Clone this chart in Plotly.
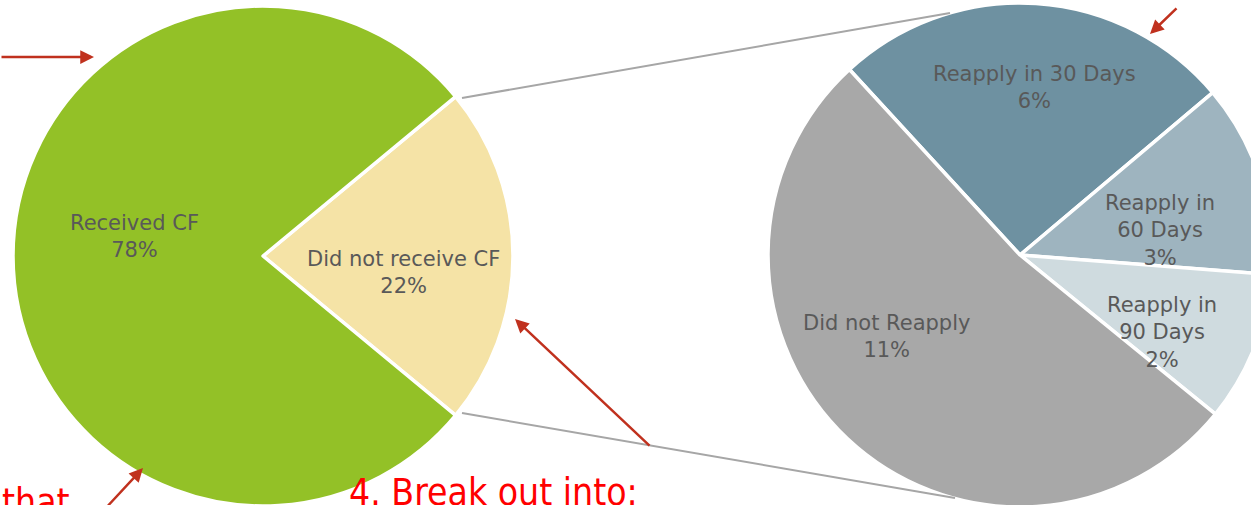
import plotly.graph_objects as go

# ---------------- data ----------------
left_labels = ["Did not receive CF", "Received CF"]
left_values = [22, 78]
left_colors = ["#F5E3A6", "#93C127"]

right_labels = ["Reapply in 30 Days", "Reapply in 60 Days", "Reapply in 90 Days", "Did not Reapply"]
right_display = ["Reapply in 30 Days", "Reapply in<br>60 Days", "Reapply in<br>90 Days", "Did not Reapply"]
right_values = [5.6, 2.7, 2.1, 11.4]
right_colors = ["#6E91A1", "#9EB4BF", "#CFDBDF", "#A8A8A8"]

note_texts = ["4. Break out into:", "that"]

# ---------------- layout helpers ----------------
W, H = 1275, 510


def px(x, y):
    return x / W, 1 - y / H


LC, LR = (263, 256), 250   # left pie centre / radius (pixels)
RC, RR = (1020, 255), 252  # right pie centre / radius (pixels)


def dom(c, r):
    return dict(x=[(c[0] - r) / W, (c[0] + r) / W],
                y=[1 - (c[1] + r) / H, 1 - (c[1] - r) / H])


fig = go.Figure()
fig.add_trace(go.Pie(
    labels=left_labels, values=left_values, sort=False, direction="clockwise",
    rotation=90 - left_values[0] / sum(left_values) * 180,
    marker=dict(colors=left_colors, line=dict(color="white", width=3.5)),
    textinfo="none", hoverinfo="label+percent", domain=dom(LC, LR), showlegend=False,
))
fig.add_trace(go.Pie(
    labels=right_labels, values=right_values, sort=False, direction="clockwise",
    rotation=-42.6,
    marker=dict(colors=right_colors, line=dict(color="white", width=3.5)),
    textinfo="none", hoverinfo="label+value", domain=dom(RC, RR), showlegend=False,
))

label_font = dict(family="DejaVu Sans, Verdana, sans-serif", size=21, color="#595959")
annotations = []

# slice labels (pixel positions of label centres)
left_pos = [(403, 272), (134, 236)]
for lab, v, (x, y) in zip(left_labels, left_values, left_pos):
    ax_, ay_ = px(x, y)
    annotations.append(dict(text=f"{lab}<br>{v}%", x=ax_, y=ay_, xref="paper", yref="paper",
                            xanchor="center", yanchor="middle", showarrow=False, font=label_font))

right_pos = [(1034, 87), (1160, 231), (1162, 332), (886, 336)]
for lab, v, (x, y) in zip(right_display, right_values, right_pos):
    ax_, ay_ = px(x, y)
    annotations.append(dict(text=f"{lab}<br>{round(v)}%", x=ax_, y=ay_, xref="paper", yref="paper",
                            xanchor="center", yanchor="middle", showarrow=False, font=label_font))

# red notes
red_font = dict(family="DejaVu Sans Condensed, Liberation Sans Narrow, Arial Narrow, sans-serif",
                size=37, color="#FF0000")
for t, (x, y) in zip(note_texts, [(347, 492), (0, 502)]):
    ax_, ay_ = px(x, y)
    annotations.append(dict(text=t, x=ax_, y=ay_, xref="paper", yref="paper",
                            xanchor="left", yanchor="middle", showarrow=False, font=red_font))

# red arrows: (tip, tail) in pixels
arrows = [((94, 57), (-4, 57)), ((1150, 34), (1178, 7)),
          ((515, 319), (651, 447)), ((143, 468), (104, 515))]
for (tx, ty), (sx, sy) in arrows:
    ax_, ay_ = px(tx, ty)
    annotations.append(dict(text="", x=ax_, y=ay_, xref="paper", yref="paper",
                            showarrow=True, arrowhead=2, arrowsize=1.1, arrowwidth=2.5,
                            arrowcolor="#C0311E", ax=sx - tx, ay=sy - ty, standoff=0))

# grey connector lines
shapes = []
for (x0, y0), (x1, y1) in [((462, 98), (950, 13)), ((462, 413), (955, 498))]:
    a0, b0 = px(x0, y0)
    a1, b1 = px(x1, y1)
    shapes.append(dict(type="line", xref="paper", yref="paper", x0=a0, y0=b0, x1=a1, y1=b1,
                       line=dict(color="#A6A6A6", width=2)))

fig.update_layout(width=W, height=H, margin=dict(l=0, r=0, t=0, b=0),
                  paper_bgcolor="white", plot_bgcolor="white",
                  annotations=annotations, shapes=shapes, showlegend=False)

fig.write_html("out.html", config={"displayModeBar": False},
               post_script="document.body.style.margin='0';document.body.style.overflow='hidden';")
